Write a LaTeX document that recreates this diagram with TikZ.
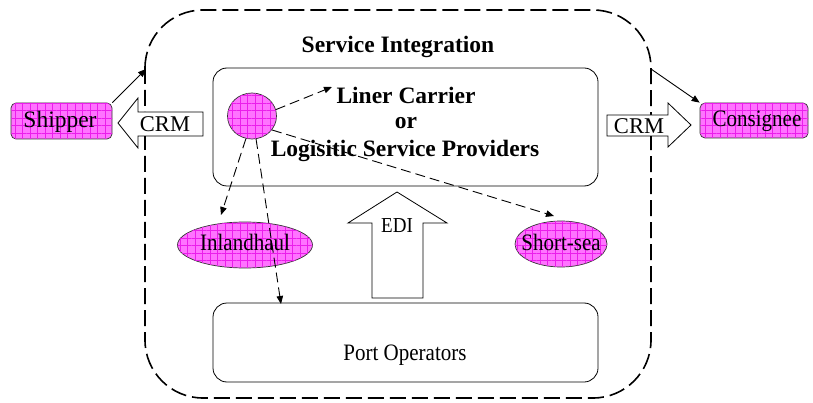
\documentclass[tikz,border=0pt]{standalone}
\usepackage{fontspec}
\setmainfont{Liberation Serif}
\usetikzlibrary{arrows.meta,patterns.meta,shapes.geometric}
\definecolor{pinkfill}{RGB}{255,115,255}
\definecolor{gridpink}{RGB}{235,30,235}
\newcommand{\vstretch}[1]{\scalebox{1}[1.12]{#1}}
\tikzset{
  magfill/.style={draw=black!80, line width=0.7pt, fill=pinkfill,
    postaction={pattern={Hatch[angle=0,distance=7.5pt,line width=0.35pt]}, pattern color=gridpink}},
  box/.style={draw, line width=0.8pt, rounded corners=14pt},
  dasharrow/.style={dash pattern=on 10pt off 5pt, line width=0.9pt, -{Triangle[length=8pt,width=6.5pt]}},
  solidarrow/.style={line width=0.9pt, -{Triangle[length=8pt,width=6.5pt]}},
  blockarrow/.style={draw, line width=0.8pt, fill=white},
  boldtxt/.style={font=\fontsize{23.5}{25}\selectfont\bfseries, inner sep=0pt},
  regtxt/.style={font=\fontsize{21}{22}\selectfont, inner sep=0pt},
}
\begin{document}
\begin{tikzpicture}[x=1pt,y=-1pt]
\useasboundingbox (0,0) rectangle (813,403);
% outer dashed boundary
\draw[dash pattern=on 16pt off 6pt, line width=1.6pt, rounded corners=58pt] (145,10) rectangle (651,398);
\node[boldtxt] (si) at (398,47) {Service Integration};
% provider box
\node[box, minimum width=385pt, minimum height=118pt] (lsp) at (405.5,127) {};
\node[boldtxt] (lc) at (406,95) {Liner Carrier};
\node[boldtxt] (or) at (406,123) {or};
\node[boldtxt] (lsptxt) at (405,151) {Logisitic Service Providers};
% port operators
\node[box, minimum width=385pt, minimum height=79pt] (port) at (405.5,342.5) {};
\node[regtxt] (porttxt) at (405,355) {\vstretch{Port Operators}};
% hub circle
\node[ellipse, magfill, minimum width=49pt, minimum height=46pt, inner sep=0pt] (hub) at (252,116) {};
% ellipses
\node[ellipse, magfill, minimum width=135pt, minimum height=46pt, inner sep=0pt] (inland) at (245,245) {};
\node[regtxt] (inlandtxt) at (245,242) {\vstretch{Inlandhaul}};
\node[ellipse, magfill, minimum width=92pt, minimum height=46pt, inner sep=0pt] (short) at (561,244) {};
\node[regtxt] (shorttxt) at (561,242) {\vstretch{Short-sea}};
% shipper / consignee
\node[magfill, rounded corners=5pt, minimum width=101pt, minimum height=36pt, inner sep=0pt] (shipper) at (61.5,121) {};
\node[regtxt, font=\fontsize{23.5}{24}\selectfont] (shippertxt) at (60,122) {Shipper};
\node[magfill, rounded corners=5pt, minimum width=108pt, minimum height=35pt, inner sep=0pt] (consignee) at (754,120.5) {};
\node[regtxt] (consigneetxt) at (757,121) {\vstretch{Consignee}};
% block arrows
\draw[blockarrow] (118,123) -- (138,98) -- (138,112) -- (203,112) -- (203,136) -- (138,136) -- (138,148) -- cycle;
\node[regtxt, font=\fontsize{22.5}{24}\selectfont] (crml) at (165,124) {CRM};
\draw[blockarrow] (607,115) -- (668,115) -- (668,103) -- (691,125) -- (668,147) -- (668,136) -- (607,136) -- cycle;
\node[regtxt, font=\fontsize{22.5}{24}\selectfont] (crmr) at (639,126) {CRM};
\draw[blockarrow] (397,192) -- (447,223) -- (423,223) -- (423,298) -- (372,298) -- (372,223) -- (348,223) -- cycle;
\node[font=\fontsize{19}{20}\selectfont, inner sep=0pt] (edi) at (397,226) {\vstretch{EDI}};
% connector endpoints
\coordinate (tlc) at (332,87);
\coordinate (tinland) at (221,215);
\coordinate (tport) at (281,304);
\coordinate (tshort) at (554,216);
\coordinate (bleft) at (146,69);
\coordinate (bright) at (651,69);
% dashed arrows
\draw[dasharrow] (hub.15) -- (tlc);
\draw[dasharrow] (hub.-105) -- (tinland);
\draw[dasharrow] (hub.-80) -- (tport);
\draw[dasharrow] (hub.-35) -- (tshort);
% solid arrows
\draw[solidarrow] (shipper.north east) -- (bleft);
\draw[solidarrow] (bright) -- (consignee.north west);
\end{tikzpicture}
\end{document}
